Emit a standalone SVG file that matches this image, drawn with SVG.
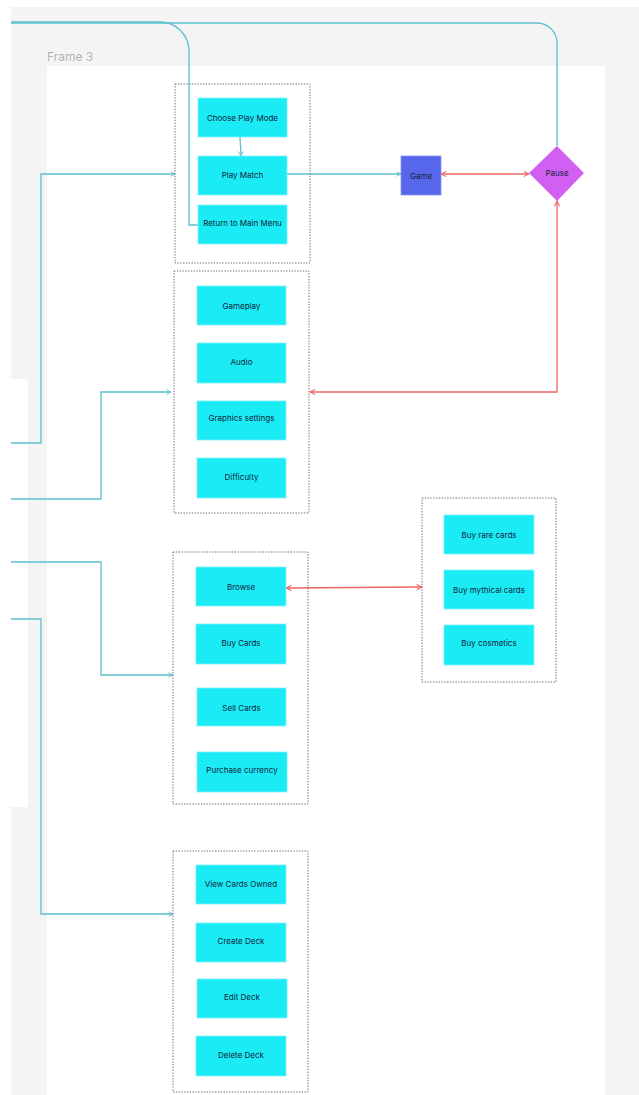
<svg xmlns="http://www.w3.org/2000/svg" width="639" height="1095" viewBox="0 0 639 1095">
<style>
.bg{fill:#f4f4f4}
.frame{fill:#ffffff}
.grp{fill:none;stroke:#6f6f6f;stroke-width:1;stroke-dasharray:1.4 1.4}
.box{fill:#1aebf5;stroke:#7ff3f8;stroke-width:0.8}
.lbl{font-family:Inter,"Noto Sans","Liberation Sans",sans-serif;font-size:8px;fill:#10243a;text-anchor:middle;dominant-baseline:central}
.teal{fill:none;stroke:#5ec0cd;stroke-width:1.3}
.red{fill:none;stroke:#ee6464;stroke-width:1.3}
</style>
<defs>
<marker id="at" viewBox="0 0 8 8" refX="7" refY="4" markerWidth="6" markerHeight="6" orient="auto-start-reverse" markerUnits="userSpaceOnUse">
<path d="M1,1 L7,4 L1,7" fill="none" stroke="#5ec0cd" stroke-width="1.2"/>
</marker>
<marker id="ar" viewBox="0 0 8 8" refX="7" refY="4" markerWidth="7" markerHeight="7" orient="auto-start-reverse" markerUnits="userSpaceOnUse">
<path d="M1,1 L7,4 L1,7" fill="none" stroke="#ee6464" stroke-width="1.2"/>
</marker>
</defs>
<rect x="0" y="0" width="639" height="1095" fill="#ffffff"/>
<rect class="bg" x="11" y="7" width="628" height="1088"/>
<rect class="frame" x="11" y="379" width="17" height="428"/>
<rect class="frame" x="47" y="66" width="558" height="1029"/>
<text x="47" y="61" font-family="Inter,'Noto Sans','Liberation Sans',sans-serif" font-size="12" fill="#b4b4b4">Frame 3</text>

<g id="connectors">
<path class="teal" d="M11,22 H160 A29,29 0 0 1 189,51 V225 H198"/>
<path class="teal" d="M557,146 V43 A20,20 0 0 0 537,23 H11"/>
<path class="teal" d="M240,137 L241,156" marker-end="url(#at)"/>
<path class="teal" d="M287,174 H401" marker-end="url(#at)"/>
<path class="red" d="M441,174 H529" marker-start="url(#ar)" marker-end="url(#ar)"/>
<path class="red" d="M557,201 V392 H310" marker-start="url(#ar)" marker-end="url(#ar)"/>
<path class="teal" d="M11,443 H41 V174 H175" marker-end="url(#at)"/>
<path class="teal" d="M11,499 H101 V392 H171" marker-end="url(#at)"/>
<path class="teal" d="M11,562 H101 V675 H173" marker-end="url(#at)"/>
<path class="teal" d="M11,619 H41 V914 H173" marker-end="url(#at)"/>
<path class="red" d="M286,588 L422,587" marker-start="url(#ar)" marker-end="url(#ar)"/>
</g>

<g id="group-play">
<rect class="grp" x="175" y="84" width="135" height="179"/>
<g id="choose-play-mode"><rect class="box" x="198" y="98" width="89" height="39"/><text class="lbl" x="242.5" y="118">Choose Play Mode</text></g>
<g id="play-match"><rect class="box" x="198" y="156" width="89" height="39"/><text class="lbl" x="242.5" y="175">Play Match</text></g>
<g id="return-main-menu"><rect class="box" x="198" y="205" width="89" height="39"/><text class="lbl" x="242.5" y="223">Return to Main Menu</text></g>
</g>

<g id="game"><rect x="401" y="156" width="40" height="39" fill="#5767ec" stroke="#8a95f2" stroke-width="0.8"/><text class="lbl" x="421" y="176">Game</text></g>
<g id="pause"><polygon points="557,146 584,173 557,201 529,173" fill="#d160f2"/><text class="lbl" x="557" y="173">Pause</text></g>

<g id="group-settings">
<rect class="grp" x="174" y="271" width="135" height="242"/>
<g id="gameplay"><rect class="box" x="197" y="286" width="89" height="39"/><text class="lbl" x="241.5" y="306">Gameplay</text></g>
<g id="audio"><rect class="box" x="197" y="343" width="89" height="40"/><text class="lbl" x="241.5" y="362">Audio</text></g>
<g id="graphics"><rect class="box" x="197" y="401" width="89" height="39"/><text class="lbl" x="241.5" y="418">Graphics settings</text></g>
<g id="difficulty"><rect class="box" x="197" y="458" width="89" height="40"/><text class="lbl" x="241.5" y="477">Difficulty</text></g>
</g>

<g id="group-shop">
<rect class="grp" x="173" y="552" width="135" height="252"/>
<g id="browse"><rect class="box" x="196" y="567" width="90" height="39"/><text class="lbl" x="241" y="587">Browse</text></g>
<g id="buy-cards"><rect class="box" x="196" y="624" width="90" height="40"/><text class="lbl" x="241" y="643">Buy Cards</text></g>
<g id="sell-cards"><rect class="box" x="197" y="688" width="89" height="38"/><text class="lbl" x="241.5" y="708">Sell Cards</text></g>
<g id="purchase-currency"><rect class="box" x="197" y="752" width="90" height="40"/><text class="lbl" x="242" y="770">Purchase currency</text></g>
</g>

<g id="group-browse">
<rect class="grp" x="422" y="498" width="134" height="184"/>
<g id="buy-rare"><rect class="box" x="444" y="515" width="90" height="39"/><text class="lbl" x="489" y="535">Buy rare cards</text></g>
<g id="buy-mythical"><rect class="box" x="444" y="570" width="90" height="39"/><text class="lbl" x="489" y="590">Buy mythical cards</text></g>
<g id="buy-cosmetics"><rect class="box" x="444" y="625" width="90" height="40"/><text class="lbl" x="489" y="643">Buy cosmetics</text></g>
</g>

<g id="group-deck">
<rect class="grp" x="173" y="851" width="135" height="241"/>
<g id="view-cards"><rect class="box" x="196" y="865" width="90" height="39"/><text class="lbl" x="241" y="884">View Cards Owned</text></g>
<g id="create-deck"><rect class="box" x="196" y="923" width="90" height="39"/><text class="lbl" x="241" y="941">Create Deck</text></g>
<g id="edit-deck"><rect class="box" x="197" y="979" width="90" height="39"/><text class="lbl" x="242" y="997">Edit Deck</text></g>
<g id="delete-deck"><rect class="box" x="196" y="1036" width="90" height="40"/><text class="lbl" x="241" y="1055">Delete Deck</text></g>
</g>
</svg>
